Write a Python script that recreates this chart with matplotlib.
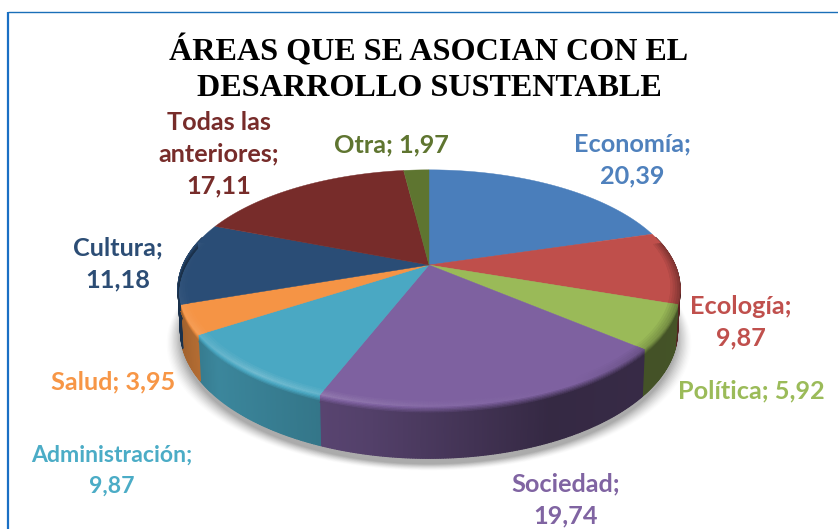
import numpy as np
import matplotlib
matplotlib.use('Agg')
import matplotlib.pyplot as plt
from matplotlib.collections import PolyCollection
from matplotlib.colors import to_rgb

names = ['Economía', 'Ecología', 'Política', 'Sociedad', 'Administración', 'Salud', 'Cultura', 'Todas las anteriores', 'Otra']
values = [20.39, 9.87, 5.92, 19.74, 9.87, 3.95, 11.18, 17.11, 1.97]
colors = ['#4a7ebb', '#bf4f4b', '#9aba58', '#7e61a0', '#4aa8c3', '#f59445', '#2a4d76', '#772c2a', '#5e7530']
label_texts = ['Economía;\n20,39', 'Ecología;\n9,87', 'Política; 5,92', 'Sociedad;\n19,74', 'Administración;\n9,87',
               'Salud; 3,95', 'Cultura;\n11,18', 'Todas las\nanteriores;\n17,11', 'Otra; 1,97']
label_colors = ['#4f81bd', '#c0504d', '#9bbb59', '#8064a2', '#4bacc6', '#f79646', '#2c4d75', '#772c2a', '#5f7530']
label_pos = [(632, 160), (741, 322), (751, 391), (566, 500), (112, 471), (113, 382), (118, 264), (219, 154), (391, 145)]
label_sizes = [18.2, 18.2, 18.2, 18.2, 16.6, 18.2, 18.2, 18.2, 18.2]
title = 'ÁREAS QUE SE ASOCIAN CON EL\nDESARROLLO SUSTENTABLE'

# pie geometry in pixels, perspective tilt fitted to the picture
CX, CY = 429, 265
A, B, K = 246, 114, 0.198
DEPTH = 41


def project(theta, r=1.0, drop=0.0):
    u = r * np.sin(theta)
    v = r * np.cos(theta)
    w = 1 + K * v
    x = CX + A * u / w * (1 - 0.01 * drop)
    y = CY - B * v / w + drop * DEPTH / w
    return x, y


def shade(color, f):
    c = np.array(to_rgb(color))
    if f < 1:
        return tuple(c * f)
    return tuple(c + (1 - c) * (f - 1))


def wall_light(theta):
    # lighter at the left of the front, dark towards the right
    return np.interp(np.sin(theta), [-1, -0.75, -0.2, 0.4, 1], [0.62, 0.80, 0.66, 0.42, 0.45])


fig = plt.figure(figsize=(8.38, 5.29), dpi=100)
ax = fig.add_axes([0, 0, 1, 1])
ax.set_xlim(0, 838)
ax.set_ylim(529, 0)
ax.axis('off')

# frame
ax.plot([8, 8], [529, 12], color='#1a6fc4', lw=1.6, solid_capstyle='butt')
ax.plot([8, 838], [12, 12], color='#1a6fb8', lw=1.0, solid_capstyle='butt')

# soft shadow under the pie
t = np.linspace(0, 2 * np.pi, 300)
for grow, alpha in zip(np.linspace(14, 0, 12), np.linspace(0.012, 0.05, 12)):
    sx, sy = project(t, 1.0, 1.0)
    ax.fill(CX + (sx - CX) * (1 + grow / 250), sy + 6 + grow * 0.45, color='black', alpha=alpha, lw=0, zorder=1)

fractions = np.cumsum([0] + values) / sum(values)
angles = fractions * 2 * np.pi

# side wall, thin quads
polys, cols = [], []
for i, color in enumerate(colors):
    n = max(int((angles[i + 1] - angles[i]) * 120), 2)
    ts = np.linspace(angles[i], angles[i + 1], n + 1)
    for t0, t1 in zip(ts[:-1], ts[1:]):
        tm = (t0 + t1) / 2
        if np.cos(tm) > 0.25:
            continue
        x0, y0 = project(t0)
        x1, y1 = project(t1)
        x2, y2 = project(t1, 1.0, 1.0)
        x3, y3 = project(t0, 1.0, 1.0)
        polys.append([(x0, y0), (x1, y1), (x2, y2), (x3, y3)])
        cols.append(shade(color, wall_light(tm)))
ax.add_collection(PolyCollection(polys, facecolors=cols, edgecolors=cols, linewidths=0.9, zorder=2))

# top of the slices
for i, color in enumerate(colors):
    ts = np.linspace(angles[i], angles[i + 1], 120)
    x, y = project(ts)
    ax.fill(np.r_[CX, x], np.r_[CY, y], color=color, lw=0.3, zorder=3)

# bevel along the rim, graded rings on the top and on the wall
RING_TOP = np.linspace(0.965, 1.0, 5)
RING_WALL = np.linspace(0.0, 0.14, 6)
polys, cols = [], []
for i, color in enumerate(colors):
    n = max(int((angles[i + 1] - angles[i]) * 120), 2)
    ts = np.linspace(angles[i], angles[i + 1], n + 1)
    for t0, t1 in zip(ts[:-1], ts[1:]):
        tm = (t0 + t1) / 2
        if np.cos(tm) > 0.2:
            continue
        side = np.sin(tm)
        glow = np.interp(side, [-1, -0.6, 0.0, 0.5, 1], [1.03, 1.22, 1.06, 1.0, 0.72])
        wall = wall_light(tm)
        for k in range(len(RING_TOP) - 1):
            f = 1 + (glow - 1) * (k + 1) / (len(RING_TOP) - 1)
            a0, b0 = project(t0, RING_TOP[k])
            a1, b1 = project(t1, RING_TOP[k])
            c1, d1 = project(t1, RING_TOP[k + 1])
            c0, d0 = project(t0, RING_TOP[k + 1])
            polys.append([(a0, b0), (a1, b1), (c1, d1), (c0, d0)])
            cols.append(shade(color, f))
        for k in range(len(RING_WALL) - 1):
            f = glow + (wall - glow) * (k + 1) / (len(RING_WALL) - 1)
            a0, b0 = project(t0, 1.0, RING_WALL[k])
            a1, b1 = project(t1, 1.0, RING_WALL[k])
            c1, d1 = project(t1, 1.0, RING_WALL[k + 1])
            c0, d0 = project(t0, 1.0, RING_WALL[k + 1])
            polys.append([(a0, b0), (a1, b1), (c1, d1), (c0, d0)])
            cols.append(shade(color, f))
ax.add_collection(PolyCollection(polys, facecolors=cols, edgecolors=cols, linewidths=0.5, zorder=4))

ax.text(429, 69, title, ha='center', va='center', family='Liberation Serif', fontweight='bold',
        fontsize=23.1, linespacing=1.3, color='black', zorder=6)

for text, pos, color, size in zip(label_texts, label_pos, label_colors, label_sizes):
    ax.text(pos[0], pos[1], text, ha='center', va='center', family='Lato', fontweight='bold',
            fontsize=size, linespacing=1.45 * 18.2 / size, color=color, zorder=6)

fig.savefig('out.png', dpi=100)
